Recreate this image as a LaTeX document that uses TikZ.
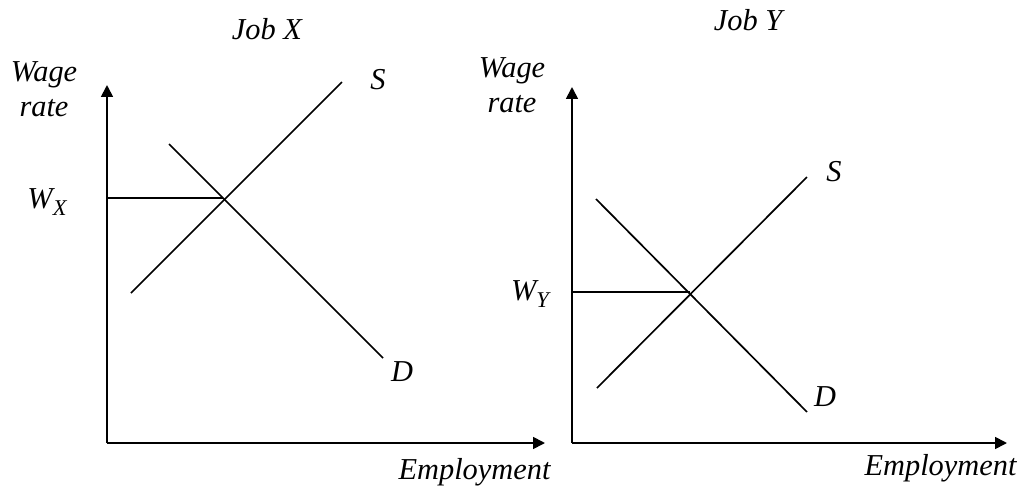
\documentclass[tikz,border=0pt]{standalone}
\usepackage{fontspec}
\setmainfont{Liberation Serif}
\usetikzlibrary{arrows.meta}

\newcommand{\wagesub}[1]{W\raisebox{-0.5ex}{\fontsize{8}{9}\selectfont #1}}

\tikzset{
    axis/.style={line width=0.6pt, -{Triangle[length=4.2pt,width=4.2pt]}},
    curve/.style={line width=0.6pt},
    lbl/.style={font=\fontsize{10.8}{12.4}\selectfont\itshape, inner sep=0pt}
}

\begin{document}
\begin{tikzpicture}[x=0.0125cm, y=-0.0125cm]
    \useasboundingbox (0,0) rectangle (1022,489);

    % Job X (left)
    \begin{scope}
        \node[lbl] (titleX) at (267, 29) {Job X};
        \node[lbl, align=center] (wageX) at (44, 89) {Wage\\rate};
        \coordinate (oX) at (107, 443);
        \coordinate (topX) at (107, 85);
        \coordinate (endX) at (545, 443);
        \draw[axis] (oX) -- (topX);
        \draw[axis] (oX) -- (endX);
        \node[lbl, anchor=east] (empX) at (551, 472) {Employment};

        \coordinate (s1X) at (131, 293);
        \coordinate (s2X) at (342, 82);
        \coordinate (d1X) at (169, 144);
        \coordinate (d2X) at (383, 358);
        \coordinate (wX) at (107, 198);
        \coordinate (eqX) at (223, 198);
        \draw[curve] (s1X) -- (s2X);
        \draw[curve] (d1X) -- (d2X);
        \draw[curve] (wX) -- (eqX);
        \node[lbl] (labSX) at (378, 80) {S};
        \node[lbl] (labDX) at (402, 372) {D};
        \node[lbl] (labWX) at (47, 202) {\wagesub{X}};
    \end{scope}

    % Job Y (right)
    \begin{scope}
        \node[lbl] (titleY) at (748, 20) {Job Y};
        \node[lbl, align=center] (wageY) at (512, 85) {Wage\\rate};
        \coordinate (oY) at (572, 443);
        \coordinate (topY) at (572, 87);
        \coordinate (endY) at (1007, 443);
        \draw[axis] (oY) -- (topY);
        \draw[axis] (oY) -- (endY);
        \node[lbl, anchor=east] (empY) at (1017, 468) {Employment};

        \coordinate (s1Y) at (597, 388);
        \coordinate (s2Y) at (807, 177);
        \coordinate (d1Y) at (596, 199);
        \coordinate (d2Y) at (807, 412);
        \coordinate (wY) at (572, 292);
        \coordinate (eqY) at (690, 292);
        \draw[curve] (s1Y) -- (s2Y);
        \draw[curve] (d1Y) -- (d2Y);
        \draw[curve] (wY) -- (eqY);
        \node[lbl] (labSY) at (834, 172) {S};
        \node[lbl] (labDY) at (825, 397) {D};
        \node[lbl] (labWY) at (530, 294) {\wagesub{Y}};
    \end{scope}
\end{tikzpicture}
\end{document}
